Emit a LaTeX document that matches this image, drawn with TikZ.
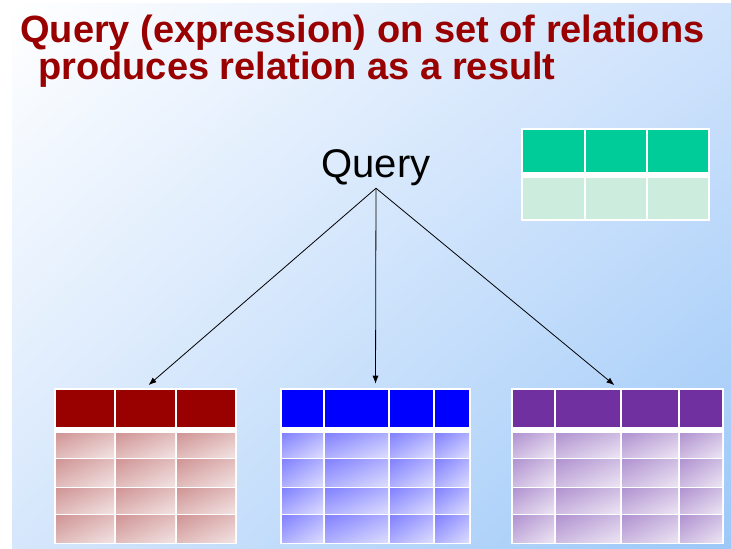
\documentclass[tikz,border=0pt]{standalone}
\usepackage{fontspec}
\setmainfont{Liberation Sans}
\usetikzlibrary{arrows.meta,fit,shadings}

\definecolor{bgtop}{HTML}{D0E3FC}
\definecolor{bgleft}{HTML}{D6E7FC}
\definecolor{bgdark}{HTML}{9CC8F8}
\definecolor{titlered}{HTML}{990000}
\definecolor{relred}{HTML}{990000}
\definecolor{relredA}{HTML}{D09494}
\definecolor{relredB}{HTML}{F2E2E2}
\definecolor{relblue}{HTML}{0000FF}
\definecolor{relblueA}{HTML}{8080FF}
\definecolor{relblueB}{HTML}{DCDCFF}
\definecolor{relpurple}{HTML}{7030A0}
\definecolor{relpurpleA}{HTML}{B092D0}
\definecolor{relpurpleB}{HTML}{ECE4F3}
\definecolor{relgreen}{HTML}{00CC99}
\definecolor{relgreenB}{HTML}{CCECDD}

\tikzset{
  title/.style={text=titlered,font=\fontsize{28.5}{30}\selectfont\bfseries,inner sep=0pt},
  cell/.style 2 args={upper left=#1,lower right=#2,
    upper right=#1!50!#2,lower left=#1!50!#2},
  link/.style={->,line width=0.6pt,shorten >=3pt}
}

\begin{document}
\begin{tikzpicture}[x=0.75pt,y=-0.75pt,>={Latex[length=6pt,width=4.5pt]}]
  \useasboundingbox (0,0) rectangle (731,549);
  \fill[white] (0,0) rectangle (731,549);
  \shade[upper left=white,upper right=bgtop,lower left=bgleft,lower right=bgdark]
    (12,4) rectangle (731,549);

  % heading
  \node[title,anchor=base west] (title1) at (20,43) {Query (expression) on set of relations};
  \node[title,anchor=base west] (title2) at (38,80) {produces relation as a result};

  \node[anchor=base,inner sep=2pt,font=\fontsize{30}{36}\selectfont] (query) at (376,177) {Query};

  % result relation
  \fill[white] (521,128) rectangle (710,221);
  \foreach \xa/\xb in {522/585,585/647,647/709} {
    \fill[relgreen] (\xa+1,130) rectangle (\xb-1,172);
    \fill[relgreenB] (\xa+1,178) rectangle (\xb-1,219);
  }
  \node[fit={(521,128) (710,221)},inner sep=0pt] (result) {};

  % input relations
  \fill[white] (54,388) rectangle (237,544);
  \foreach \xa/\xb in {55/115,115/176,176/236} {
    \fill[relred] (\xa+1,390) rectangle (\xb-1,427);
    \foreach \ya/\yb in {432/458,458/487,487/514,514/543}
      \shade[cell={relredA}{relredB}] (\xa+1,\ya+1) rectangle (\xb-1,\yb-1);
  }
  \node[fit={(54,388) (237,544)},inner sep=0pt] (redrel) {};

  \fill[white] (280,388) rectangle (471,544);
  \foreach \xa/\xb in {281/324,324/389,389/434,434/470} {
    \fill[relblue] (\xa+1,390) rectangle (\xb-1,427);
    \foreach \ya/\yb in {432/458,458/487,487/514,514/543}
      \shade[cell={relblueA}{relblueB}] (\xa+1,\ya+1) rectangle (\xb-1,\yb-1);
  }
  \node[fit={(280,388) (471,544)},inner sep=0pt] (bluerel) {};

  \fill[white] (511,388) rectangle (724,544);
  \foreach \xa/\xb in {512/555,555/621,621/679,679/723} {
    \fill[relpurple] (\xa+1,390) rectangle (\xb-1,427);
    \foreach \ya/\yb in {432/458,458/487,487/514,514/543}
      \shade[cell={relpurpleA}{relpurpleB}] (\xa+1,\ya+1) rectangle (\xb-1,\yb-1);
  }
  \node[fit={(511,388) (724,544)},inner sep=0pt] (purplerel) {};

  \draw[link] (query.south) -- (redrel.north);
  \draw[link] (query.south) -- (bluerel.north);
  \draw[link] (query.south) -- (purplerel.north);
\end{tikzpicture}
\end{document}
